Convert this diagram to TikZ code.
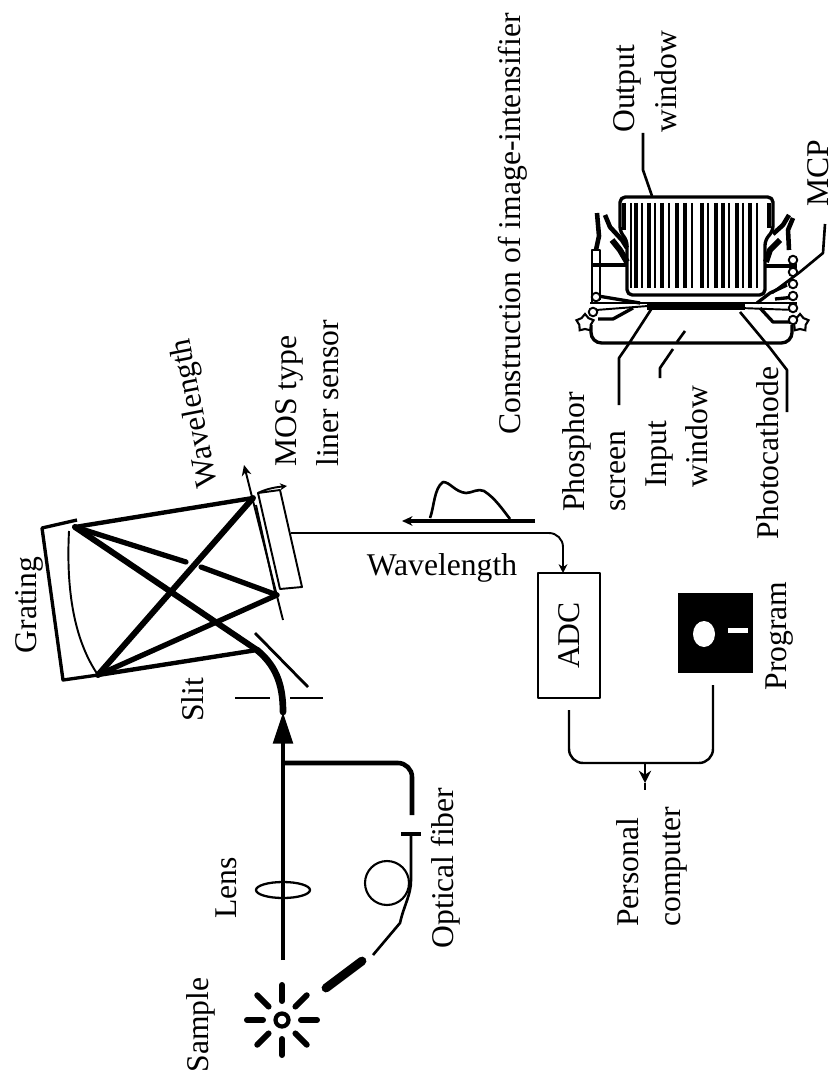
\documentclass[tikz,border=0pt]{standalone}
\usepackage{fontspec}
\setmainfont{Liberation Serif}
\usetikzlibrary{shapes.geometric,arrows.meta,positioning}

\begin{document}
\begin{tikzpicture}[
  x=0.02cm, y=-0.02cm,
  font=\fontsize{18}{23.6}\selectfont,
  lbl/.style={rotate=90, align=left, inner sep=0pt, anchor=west},
  lblc/.style={rotate=90, align=center, inner sep=0pt},
  thin line/.style={line width=1.1pt, black, line join=round},
  mid line/.style={line width=1.9pt, black, line join=round},
  beam/.style={line width=3.4pt, black, line cap=round},
  beamm/.style={line width=2.5pt, black, line cap=round},
  rayl/.style={line width=3.4pt, black, line cap=round},
  hatch/.style={line width=1.5pt, black},
  bolt/.style={circle, draw, fill=white, line width=1.1pt, minimum size=0.17cm, inner sep=0pt},
  stud/.style={star, star points=5, draw, fill=white, line width=1.2pt, minimum size=0.36cm, inner sep=0pt},
  tip/.style={-{Stealth[length=6pt,width=5.5pt]}},
]
\useasboundingbox (0,0) rectangle (833,1081);

% labels
\node[lblc] (title)   at (513,224)  {Construction of image-intensifier};
\node[lbl]  (output)  at (645,133)  {Output\\window};
\node[lblc] (mcp)     at (818,173)  {MCP};
\node[lbl]  (phos)    at (594,512)  {Phosphor\\screen};
\node[lbl]  (input)   at (677,488)  {Input\\window};
\node[lblc] (pcath)   at (768,453)  {Photocathode};
\node[lbl]  (mos)     at (307,467)  {MOS type\\liner sensor};
\node[lblc, rotate=11] (wvl) at (196,413) {Wavelength};
\node[lblc] (gratl)   at (29,605)   {Grating};
\node[lblc] (slit)    at (193,700)  {Slit};
\node[lblc] (lensl)   at (226,888)  {Lens};
\node[lblc] (samplel) at (201,1025) {Sample};
\node[lblc] (fiberl)  at (446,868)  {Optical fiber};
\node[inner sep=0pt] (wvh) at (442,568) {Wavelength};
\node[lblc] (prog)    at (780,636)  {Program};
\node[lbl]  (pc)      at (652,927)  {Personal\\computer};

% sample and lens
\coordinate (sample) at (282,1020);
\draw[line width=2.4pt] (sample) circle (6.5);
\foreach \a in {0,45,...,315}
  \draw[rayl] (sample) ++(\a:19) -- ++(\a:16);
\node[ellipse, draw, line width=1.3pt, minimum width=1.08cm, minimum height=0.32cm, inner sep=0pt] (lens) at (283,890) {};

% fibre
\coordinate (ax0)  at (283,960);
\coordinate (axh)  at (283,712);
\coordinate (join) at (283,763);
\coordinate (f1)   at (412,815);
\coordinate (f2)   at (411,834);
\coordinate (f3)   at (373,955);
\coordinate (f4)   at (362,961);
\coordinate (f5)   at (326,988);
\draw[mid line, line width=2.6pt, -{Triangle[length=18pt,width=11pt]}] (ax0) -- (axh);
\draw[mid line, line width=2.6pt, rounded corners=8pt] (join) -- (412,763) -- (f1);
\node[fill=black, minimum width=0.4cm, minimum height=0.07cm, inner sep=0pt] (tick) at (f2) {};
\node[circle, draw, line width=1.2pt, minimum size=0.88cm, inner sep=0pt] (loop) at (387,883) {};
\draw[mid line, line width=1.5pt] (tick.center) -- (411,880) .. controls (411,895) and (404,905) .. (400,923) -- (f3);
\draw[line width=5pt, line cap=round] (f4) -- (f5);

% slit
\coordinate (m)  at (257,650);
\node[fill=black, minimum width=0.7cm, minimum height=0.05cm, inner sep=0pt] (slita) at (252,698) {};
\node[fill=black, minimum width=0.66cm, minimum height=0.05cm, inner sep=0pt] (slitb) at (306,698) {};
\draw[line width=3.8pt, line cap=round] (axh) .. controls (283,690) and (279,668) .. (m);
\draw[mid line, line width=1.6pt] (255,633) -- (308,687);

% grating
\coordinate (g1) at (75,527);
\coordinate (g2) at (98,675);
\coordinate (s1) at (253,498);
\coordinate (s2) at (277,595);
\draw[mid line] (77,520) -- (42,528) -- (63,680) -- (g2);
\draw[thin line] (69,531) .. controls (66,590) and (74,640) .. (g2);
\draw[beamm] (g1) -- (s1);
\draw[beam] (g2) -- (s1);
\draw[beam, line width=3pt] (g2) -- (s2);
\draw[beamm] (g2) -- (m);
\draw[beam] (g1) -- (m);
\draw[beam, line width=3pt] (g1) -- (186,562);
\draw[beam, line width=3pt] (201,567) -- (s2);

% sensor
\coordinate (axa) at (283,620);
\coordinate (axb) at (244,465);
\draw[thin line] (258,493) -- (280,490) -- (302,587) -- (280,589) -- cycle;
\draw[thin line, tip] (axa) -- (axb);
\draw[thin line] (256,505) -- (275,592);
\draw[thin line, -{Stealth[length=4pt,width=4pt]}] (258,493) .. controls (268,488) and (278,487) .. (287,486);

% signal path
\coordinate (cab0) at (291,533);
\coordinate (adco) at (569,710);
\coordinate (flpo) at (713,685);
\coordinate (pcj)  at (645,763);
\coordinate (pch)  at (645,783);
\coordinate (pce)  at (645,790);
\node[draw, mid line, line width=1.4pt, rotate=90, minimum width=2.5cm, minimum height=1.24cm, inner sep=0pt] (adc) at (569,635.5) {ADC};
\draw[thin line, rounded corners=8pt, -{Stealth[length=5pt,width=5pt]}] (cab0) -- (563,533) -- (563,573);
\draw[thin line, line width=1.4pt, rounded corners=8pt] (adco) -- (569,763) -- (713,763) -- (flpo);
\draw[thin line, -{Stealth[length=7pt,width=7pt]}] (pcj) -- (pch);
\draw[thin line] (pch) -- (pce);
\node[fill=black, minimum width=1.5cm, minimum height=1.6cm, inner sep=0pt] (floppy) at (715.5,633) {};
\node[ellipse, fill=white, minimum width=0.44cm, minimum height=0.52cm, inner sep=0pt] (hole) at (704,634) {};
\node[fill=white, minimum width=0.4cm, minimum height=0.1cm, inner sep=0pt] (slot) at (738,630) {};

% spectrum
\coordinate (sp0) at (535,521);
\coordinate (sp1) at (402,521);
\draw[mid line, tip] (sp0) -- (sp1);
\draw[thin line, line width=1.5pt] (430,518) .. controls (434,508) and (434,488) .. (443,482)
  .. controls (450,482) and (455,492) .. (466,493) .. controls (472,493) and (478,488) .. (484,491)
  .. controls (495,498) and (503,510) .. (510,519);

% image intensifier
\draw[mid line, rounded corners=3pt] (620,197) -- (773,197) -- (773,231) -- (765,240) -- (765,295) -- (627,295) -- (627,240) -- (620,232) -- cycle;
\foreach \x/\w in {631/1.4,636/2,642/1.4,649/2.4,655/1.4,662/2,669/1.4,677/2.4,685/2.4,692/1.4,702/2.2,708/1.4,716/2.4,723/2.4,729/1.4,737/2.2,743/1.4,750/2,757/1.4}
  \draw[hatch, line width=\w pt] (\x,203) -- (\x,288);
\draw[hatch, line width=2.6pt] (624,203) -- (624,230);
\draw[hatch, line width=2.6pt] (769,203) -- (769,228);
\draw[mid line, line width=1.3pt] (590,303) -- (797,303);
\draw[mid line, line width=3pt] (647,307) -- (745,307);
\draw[thin line] (596,310) -- (648,306);
\draw[thin line] (740,308) -- (795,310);
\draw[mid line, rounded corners=6pt] (591,325) -- (591,343) -- (792,343) -- (792,325);
\draw[mid line] (598,319) -- (613,319) -- (633,308);
\draw[mid line] (760,308) -- (773,322) -- (792,322);
\draw[mid line] (598,296) -- (610,298) -- (640,303);
\draw[mid line] (787,285) -- (770,293) -- (757,303);
\draw[mid line] (775,299) -- (795,297);
% columns and studs
\draw[thin line, line width=1.5pt] (592,250) rectangle (600,265);
\draw[mid line, line width=2.8pt] (592,265) -- (627,265);
\draw[thin line] (592,265) -- (592,303) (600,265) -- (600,300);
\draw[mid line, line width=2.8pt] (765,266) -- (797,266);
\node[stud] (st1) at (585,323) {};
\node[stud] (st2) at (800,323) {};
\node[bolt] (b1) at (596,297) {};
\node[bolt] (b2) at (593,312) {};
\foreach \y in {260,272,284,296,308,320}
  \node[bolt] (br\y) at (793,\y) {};
% ears
\draw[mid line, line width=2.6pt] (597,213) -- (599,236) -- (596,250);
\draw[mid line, line width=2.6pt] (605,215) -- (610,227) -- (622,240) -- (627,248);
\draw[mid line, line width=3.4pt] (612,240) -- (620,250) -- (627,262);
\draw[mid line, line width=2.6pt] (789,215) -- (783,225) -- (773,234);
\draw[mid line, line width=2.6pt] (793,218) -- (788,230) -- (789,250);
\draw[mid line, line width=3.4pt] (780,240) -- (770,250) -- (766,262);

% leaders
\coordinate (o0) at (643,133);
\coordinate (o1) at (652,196);
\draw[thin line, line width=1.5pt] (o0) -- (643,170) -- (o1);
\coordinate (c0) at (825,224);
\coordinate (c1) at (772,293);
\draw[thin line, line width=1.5pt] (c0) -- (823,253) -- (800,272) -- (c1);
\coordinate (p0) at (619,405);
\coordinate (p1) at (652,308);
\draw[thin line, line width=1.5pt] (p0) -- (619,358) -- (628,345) -- (p1);
\coordinate (i0) at (660,378);
\coordinate (i1) at (673,349);
\coordinate (i2) at (677,342);
\coordinate (i3) at (685,331);
\draw[thin line, line width=1.5pt] (i0) -- (660,368) -- (i1);
\draw[thin line, line width=1.5pt] (i2) -- (i3);
\coordinate (h0) at (787,412);
\coordinate (h1) at (740,312);
\draw[thin line, line width=1.5pt] (h0) -- (787,370) -- (770,348) -- (h1);

\end{tikzpicture}
\end{document}
